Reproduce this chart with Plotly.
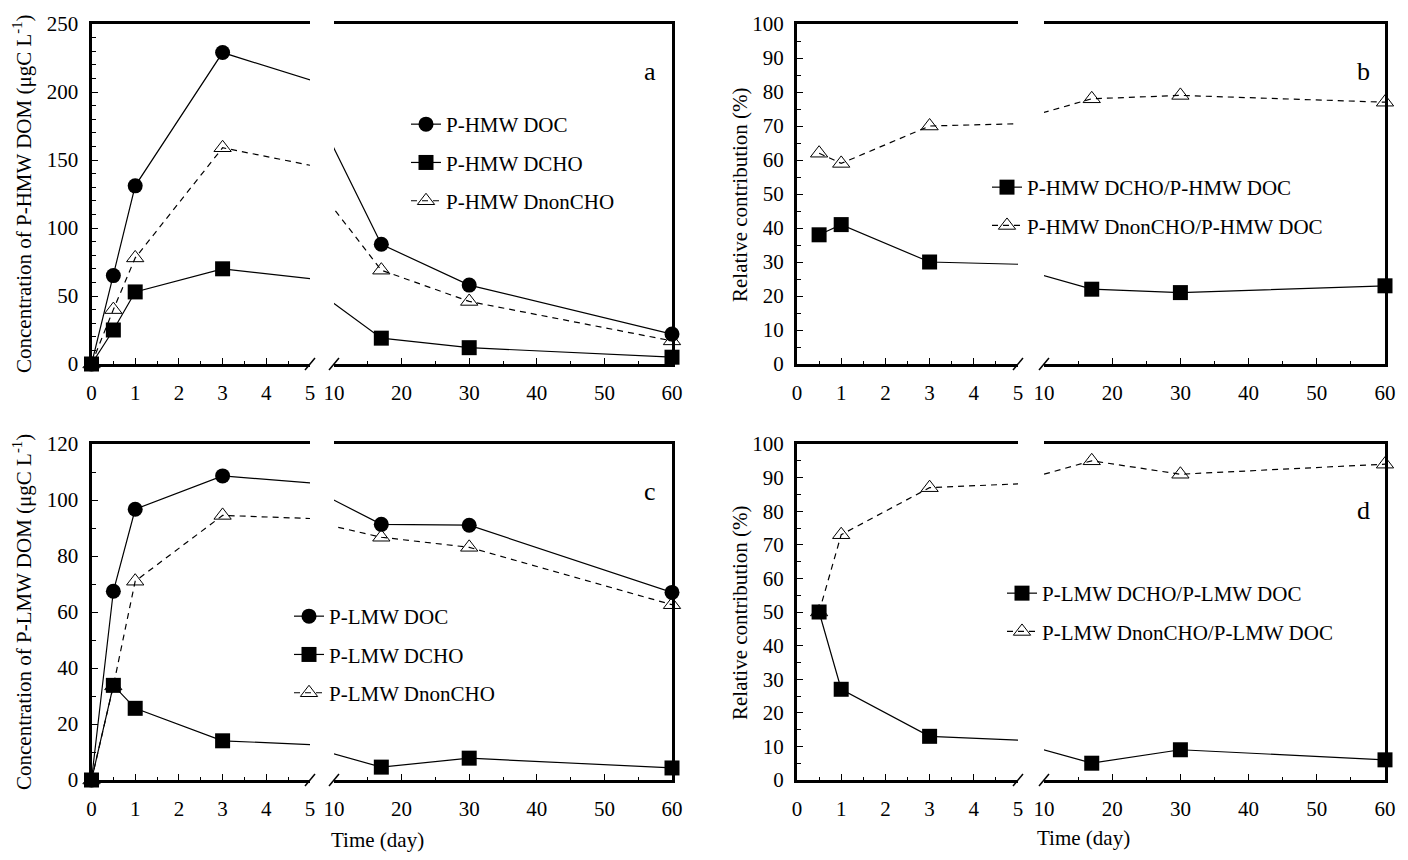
import plotly.graph_objects as go

# ---------------- data ----------------
days = [0, 0.5, 1, 3, 17, 30, 60]
hmw_doc = [0, 65, 131, 229, 88, 58, 22]
hmw_dcho = [0, 25, 53, 70, 19, 12, 5]
hmw_dnoncho = [0, 40, 78, 159, 69, 46, 17]

days_ratio = [0.5, 1, 3, 17, 30, 60]
hmw_dcho_pct = [38, 41, 30, 22, 21, 23]
hmw_dnoncho_pct = [62, 59, 70, 78, 79, 77]

lmw_doc = [0, 67.4, 96.7, 108.6, 91.3, 91.0, 67.0]
lmw_dcho = [0, 33.8, 25.6, 14.0, 4.6, 7.8, 4.3]
lmw_dnoncho = [0, 33.6, 71.0, 94.5, 86.7, 83.1, 62.6]

lmw_dcho_pct = [50, 27, 13, 5, 9, 6]
lmw_dnoncho_pct = [50, 73, 87, 95, 91, 94]

left_ticks = [0, 1, 2, 3, 4, 5]
right_ticks = [10, 20, 30, 40, 50, 60]

W, H = 1408, 860
FONT = "Liberation Serif"


def px(x):
    return x / W


def py(y):
    return 1 - y / H


fig = go.Figure()

# panel geometry (pixels)
rows = {"top": (24, 364), "bot": (444, 780)}
cols = {"left": (91.5, 310, 334, 672), "right": (797, 1018, 1044, 1385)}

panels = [
    # name, row, col, xl, xr, yl, yr, ymax, ydtick, yminor, legend
    ("a", "top", "left", "x", "x2", "y", "y2", 250, 50, 10, "legend"),
    ("b", "top", "right", "x3", "x4", "y3", "y4", 100, 10, 5, "legend2"),
    ("c", "bot", "left", "x5", "x6", "y5", "y6", 120, 20, 10, "legend3"),
    ("d", "bot", "right", "x7", "x8", "y7", "y8", 100, 10, 5, "legend4"),
]

layout_axes = {}
shapes = []
annotations = []

for name, row, col, xl, xr, yl, yr, ymax, ydt, ymin_dt, leg in panels:
    ytop, ybot = rows[row]
    L0, L5, R10, R60 = cols[col]
    ydom = [py(ybot), py(ytop)]
    xl_key = "xaxis" + xl[1:]
    xr_key = "xaxis" + xr[1:]
    yl_key = "yaxis" + yl[1:]
    yr_key = "yaxis" + yr[1:]
    tickfont = dict(family=FONT, size=21, color="black")
    layout_axes[xl_key] = dict(
        domain=[px(L0), px(L5)], range=[0, 5], anchor=yl,
        showline=True, linewidth=3, linecolor="black", mirror=True,
        ticks="inside", ticklen=6, tickwidth=1, tickcolor="black",
        tickvals=left_ticks, ticktext=[str(t) for t in left_ticks],
        minor=dict(tickvals=[0.5, 1.5, 2.5, 3.5, 4.5], ticks="inside", ticklen=3, tickcolor="black"),
        showgrid=False, zeroline=False, tickfont=tickfont, automargin=False,
        ticklabelstandoff=8, layer="below traces", fixedrange=True,
    )
    layout_axes[xr_key] = dict(
        domain=[px(R10), px(R60)], range=[10, 60], anchor=yr,
        showline=True, linewidth=3, linecolor="black", mirror=True,
        ticks="inside", ticklen=6, tickwidth=1, tickcolor="black",
        tickvals=right_ticks, ticktext=[str(t) for t in right_ticks],
        minor=dict(tickvals=[15, 25, 35, 45, 55], ticks="inside", ticklen=3, tickcolor="black"),
        showgrid=False, zeroline=False, tickfont=tickfont, automargin=False,
        ticklabelstandoff=8, layer="below traces", fixedrange=True,
    )
    layout_axes[yl_key] = dict(
        domain=ydom, range=[0, ymax], anchor=xl,
        showline=True, linewidth=3, linecolor="black", mirror=False,
        ticks="inside", ticklen=6, tickwidth=1, tickcolor="black",
        dtick=ydt, tick0=0,
        minor=dict(dtick=ymin_dt, ticks="inside", ticklen=4, tickcolor="black"),
        showgrid=False, zeroline=False, tickfont=tickfont, automargin=False,
        ticklabelstandoff=6, layer="below traces", fixedrange=True,
    )
    layout_axes[yr_key] = dict(
        domain=ydom, range=[0, ymax], anchor=xr, side="right",
        showline=True, linewidth=3, linecolor="black",
        ticks="", showticklabels=False, automargin=False,
        showgrid=False, zeroline=False, layer="below traces", fixedrange=True,
    )
    # break marks on the bottom axis
    for bx in (L5, R10):
        shapes.append(dict(type="line", xref="paper", yref="paper",
                           x0=px(bx - 5), y0=py(ybot + 6), x1=px(bx + 5), y1=py(ybot - 6),
                           line=dict(color="black", width=1.5)))
    # panel letter
    annotations.append(dict(text=name, xref="paper", yref="paper",
                            x=px(R60 - 22), y=py(ytop + 48 if name != "d" else ytop + 66),
                            showarrow=False, xanchor="center", yanchor="middle",
                            font=dict(family=FONT, size=26, color="black")))

fig.update_layout(**layout_axes)


def marker_style(kind):
    if kind == "circle":
        return dict(symbol="circle", size=15, color="black", line=dict(width=0))
    if kind == "square":
        return dict(symbol="square", size=15, color="black", line=dict(width=0))
    return dict(symbol="triangle-up-open", size=15, color="black", line=dict(width=1, color="black"))


def add_series(panel, xs, ys, name, kind, dash):
    pname, row, col, xl, xr, yl, yr, ymax, ydt, ymin_dt, leg = panel
    line = dict(color="black", width=1.2, dash="6px,5px" if dash else "solid")
    for xa, ya, lo, hi in ((xl, yl, 0, 5), (xr, yr, 10, 60)):
        fig.add_trace(go.Scatter(x=xs, y=ys, mode="lines", line=line,
                                 xaxis=xa, yaxis=ya, showlegend=False, hoverinfo="skip"))
        sx = [a for a in xs if lo <= a <= hi]
        sy = [b for a, b in zip(xs, ys) if lo <= a <= hi]
        fig.add_trace(go.Scatter(x=sx, y=sy, mode="markers", marker=marker_style(kind),
                                 cliponaxis=False, xaxis=xa, yaxis=ya, showlegend=False))
    fig.add_trace(go.Scatter(x=[None], y=[None], mode="lines+markers", line=line,
                             marker=marker_style(kind), name=name, legend=leg,
                             legendgroup=name + pname, showlegend=True, xaxis=xl, yaxis=yl))


pa, pb, pc, pd = panels
add_series(pa, days, hmw_doc, "P-HMW DOC", "circle", False)
add_series(pa, days, hmw_dcho, "P-HMW DCHO", "square", False)
add_series(pa, days, hmw_dnoncho, "P-HMW DnonCHO", "triangle", True)

add_series(pb, days_ratio, hmw_dcho_pct, "P-HMW DCHO/P-HMW DOC", "square", False)
add_series(pb, days_ratio, hmw_dnoncho_pct, "P-HMW DnonCHO/P-HMW DOC", "triangle", True)

add_series(pc, days, lmw_doc, "P-LMW DOC", "circle", False)
add_series(pc, days, lmw_dcho, "P-LMW DCHO", "square", False)
add_series(pc, days, lmw_dnoncho, "P-LMW DnonCHO", "triangle", True)

add_series(pd, days_ratio, lmw_dcho_pct, "P-LMW DCHO/P-LMW DOC", "square", False)
add_series(pd, days_ratio, lmw_dnoncho_pct, "P-LMW DnonCHO/P-LMW DOC", "triangle", True)

legend_font = dict(family=FONT, size=21, color="black")
common_leg = dict(font=legend_font, bgcolor="rgba(0,0,0,0)", borderwidth=0,
                  xanchor="left", yanchor="top", tracegroupgap=8,
                  itemwidth=30, traceorder="grouped")
fig.update_layout(
    legend=dict(x=px(406), y=py(104), **common_leg),
    legend2=dict(x=px(987), y=py(167), **common_leg),
    legend3=dict(x=px(289), y=py(596), **common_leg),
    legend4=dict(x=px(1002), y=py(573), **common_leg),
)

# axis titles as annotations
title_font = dict(family=FONT, size=21, color="black")
for cx, cy, txt in (
    (22, 194, "Concentration of P-HMW DOM (\u03bcgC L<sup>-1</sup>)"),
    (22, 612, "Concentration of P-LMW DOM (\u03bcgC L<sup>-1</sup>)"),
    (740, 194, "Relative contribution (%)"),
    (740, 612, "Relative contribution (%)"),
):
    annotations.append(dict(text=txt, xref="paper", yref="paper", x=px(cx), y=py(cy),
                            textangle=-90, showarrow=False, xanchor="center", yanchor="middle",
                            font=title_font))
for cx, cy in ((377, 840), (1083, 838)):
    annotations.append(dict(text="Time (day)", xref="paper", yref="paper", x=px(cx), y=py(cy),
                            showarrow=False, xanchor="center", yanchor="middle", font=title_font))

fig.update_layout(
    width=W, height=H,
    margin=dict(l=0, r=0, t=0, b=0, pad=0, autoexpand=False),
    paper_bgcolor="white", plot_bgcolor="white",
    shapes=shapes, annotations=annotations,
    font=dict(family=FONT, color="black"),
    hovermode=False,
)

fig.write_html("out.html", config={"displayModeBar": False},
               post_script="document.body.style.margin='0px';document.body.style.overflow='hidden';")
